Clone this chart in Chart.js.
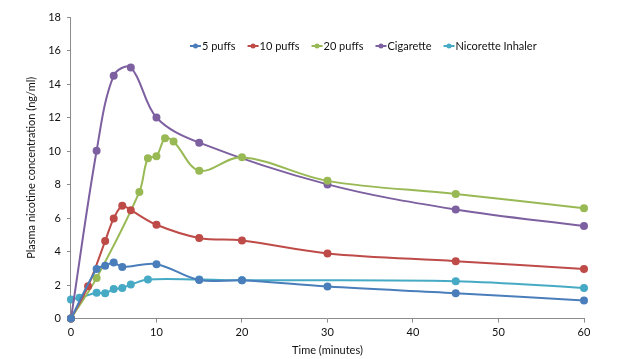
<!DOCTYPE html>
<html>
<head>
<meta charset="utf-8">
<script src="https://cdn.jsdelivr.net/npm/chart.js@4/dist/chart.umd.min.js"></script>
<style>
  html, body { margin: 0; padding: 0; background: #fff; }
  canvas { display: block; }
</style>
</head>
<body>
<canvas id="chart" width="624" height="359"></canvas>
<script>
// series names + colours
const seriesNames = ['5 puffs', '10 puffs', '20 puffs', 'Cigarette', 'Nicorette Inhaler'];
const seriesColors = ['#4a7ebb', '#be4b48', '#98b954', '#7d60a0', '#46aac5'];

// time (minutes) and plasma nicotine (ng/ml)
const puffs5Time = [0, 3, 4, 5, 6, 10, 15, 20, 30, 45, 60];
const puffs5Conc = [0, 2.96, 3.16, 3.35, 3.08, 3.25, 2.3, 2.29, 1.91, 1.52, 1.08];

const puffs10Time = [0, 2, 4, 5, 6, 7, 10, 15, 20, 30, 45, 60];
const puffs10Conc = [0, 1.93, 4.63, 5.98, 6.73, 6.47, 5.6, 4.81, 4.66, 3.89, 3.43, 2.96];

const puffs20Time = [0, 3, 8, 9, 10, 11, 12, 15, 20, 30, 45, 60];
const puffs20Conc = [0, 2.43, 7.56, 9.57, 9.69, 10.77, 10.57, 8.83, 9.63, 8.22, 7.44, 6.59];

const cigTime = [0, 3, 5, 7, 10, 15, 30, 45, 60];
const cigConc = [0, 10.02, 14.5, 14.99, 12.0, 10.5, 8.01, 6.51, 5.52];

const inhalerTime = [0, 1, 3, 4, 5, 6, 7, 9, 15, 20, 45, 60];
const inhalerConc = [1.14, 1.24, 1.54, 1.52, 1.76, 1.83, 2.03, 2.33, 2.33, 2.29, 2.23, 1.83];

const xTicks = [0, 10, 20, 30, 40, 50, 60];
const yTicks = [0, 2, 4, 6, 8, 10, 12, 14, 16, 18];

const allTimes = [puffs5Time, puffs10Time, puffs20Time, cigTime, inhalerTime];
const allConcs = [puffs5Conc, puffs10Conc, puffs20Conc, cigConc, inhalerConc];

const FONT = 'Lato, "Open Sans", sans-serif';

const datasets = seriesNames.map((name, i) => ({
    label: name,
    data: allTimes[i].map((t, j) => ({ x: t, y: allConcs[i][j] })),
    borderColor: seriesColors[i],
    backgroundColor: seriesColors[i],
    borderWidth: 2,
    pointRadius: 3,
    pointHoverRadius: 3,
    tension: 0.35,
    clip: false,
}));

// legend inside the plot: short line with a dot, then the name
const insideLegend = {
    id: 'insideLegend',
    afterDraw(chart) {
        const ctx = chart.ctx;
        ctx.save();
        ctx.font = '11px ' + FONT;
        ctx.textBaseline = 'middle';
        let x = 190;
        const y = 46;
        chart.data.datasets.forEach((ds) => {
            ctx.strokeStyle = ds.borderColor;
            ctx.lineWidth = 2;
            ctx.beginPath(); ctx.moveTo(x, y); ctx.lineTo(x + 11, y); ctx.stroke();
            ctx.fillStyle = ds.borderColor;
            ctx.beginPath(); ctx.arc(x + 5.5, y, 2.5, 0, Math.PI * 2); ctx.fill();
            ctx.fillStyle = '#111';
            ctx.textAlign = 'left';
            ctx.fillText(ds.label, x + 12, y);
            x += 12 + ctx.measureText(ds.label).width + 12;
        });
        ctx.restore();
    }
};

const axisColor = '#8c8c8c';

new Chart(document.getElementById('chart'), {
    type: 'line',
    data: { datasets },
    options: {
        responsive: false,
        animation: false,
        devicePixelRatio: 1,
        layout: { padding: { left: 25, right: 40, top: 17, bottom: 2 } },
        plugins: {
            legend: { display: false },
            tooltip: { enabled: false },
        },
        scales: {
            x: {
                type: 'linear',
                min: 0, max: 60,
                afterBuildTicks(axis) { axis.ticks = xTicks.map(v => ({ value: v })); },
                grid: { drawOnChartArea: false, drawTicks: true, tickLength: 4, color: axisColor },
                border: { color: axisColor, width: 1 },
                ticks: { color: '#111', font: { family: FONT, size: 11 }, padding: 3, maxRotation: 0 },
                title: { display: true, text: 'Time (minutes)', color: '#111', font: { family: FONT, size: 11 }, padding: { top: 2, bottom: 0 } },
            },
            y: {
                min: 0, max: 18,
                afterBuildTicks(axis) { axis.ticks = yTicks.map(v => ({ value: v })); },
                grid: { drawOnChartArea: false, drawTicks: true, tickLength: 4, color: axisColor },
                border: { color: axisColor, width: 1 },
                ticks: { color: '#111', font: { family: FONT, size: 11 }, padding: 6 },
                title: { display: true, text: 'Plasma nicotine concentration (ng/ml)', color: '#111', font: { family: FONT, size: 11 }, padding: { top: 0, bottom: 4 } },
            },
        },
    },
    plugins: [insideLegend],
});
</script>
</body>
</html>
